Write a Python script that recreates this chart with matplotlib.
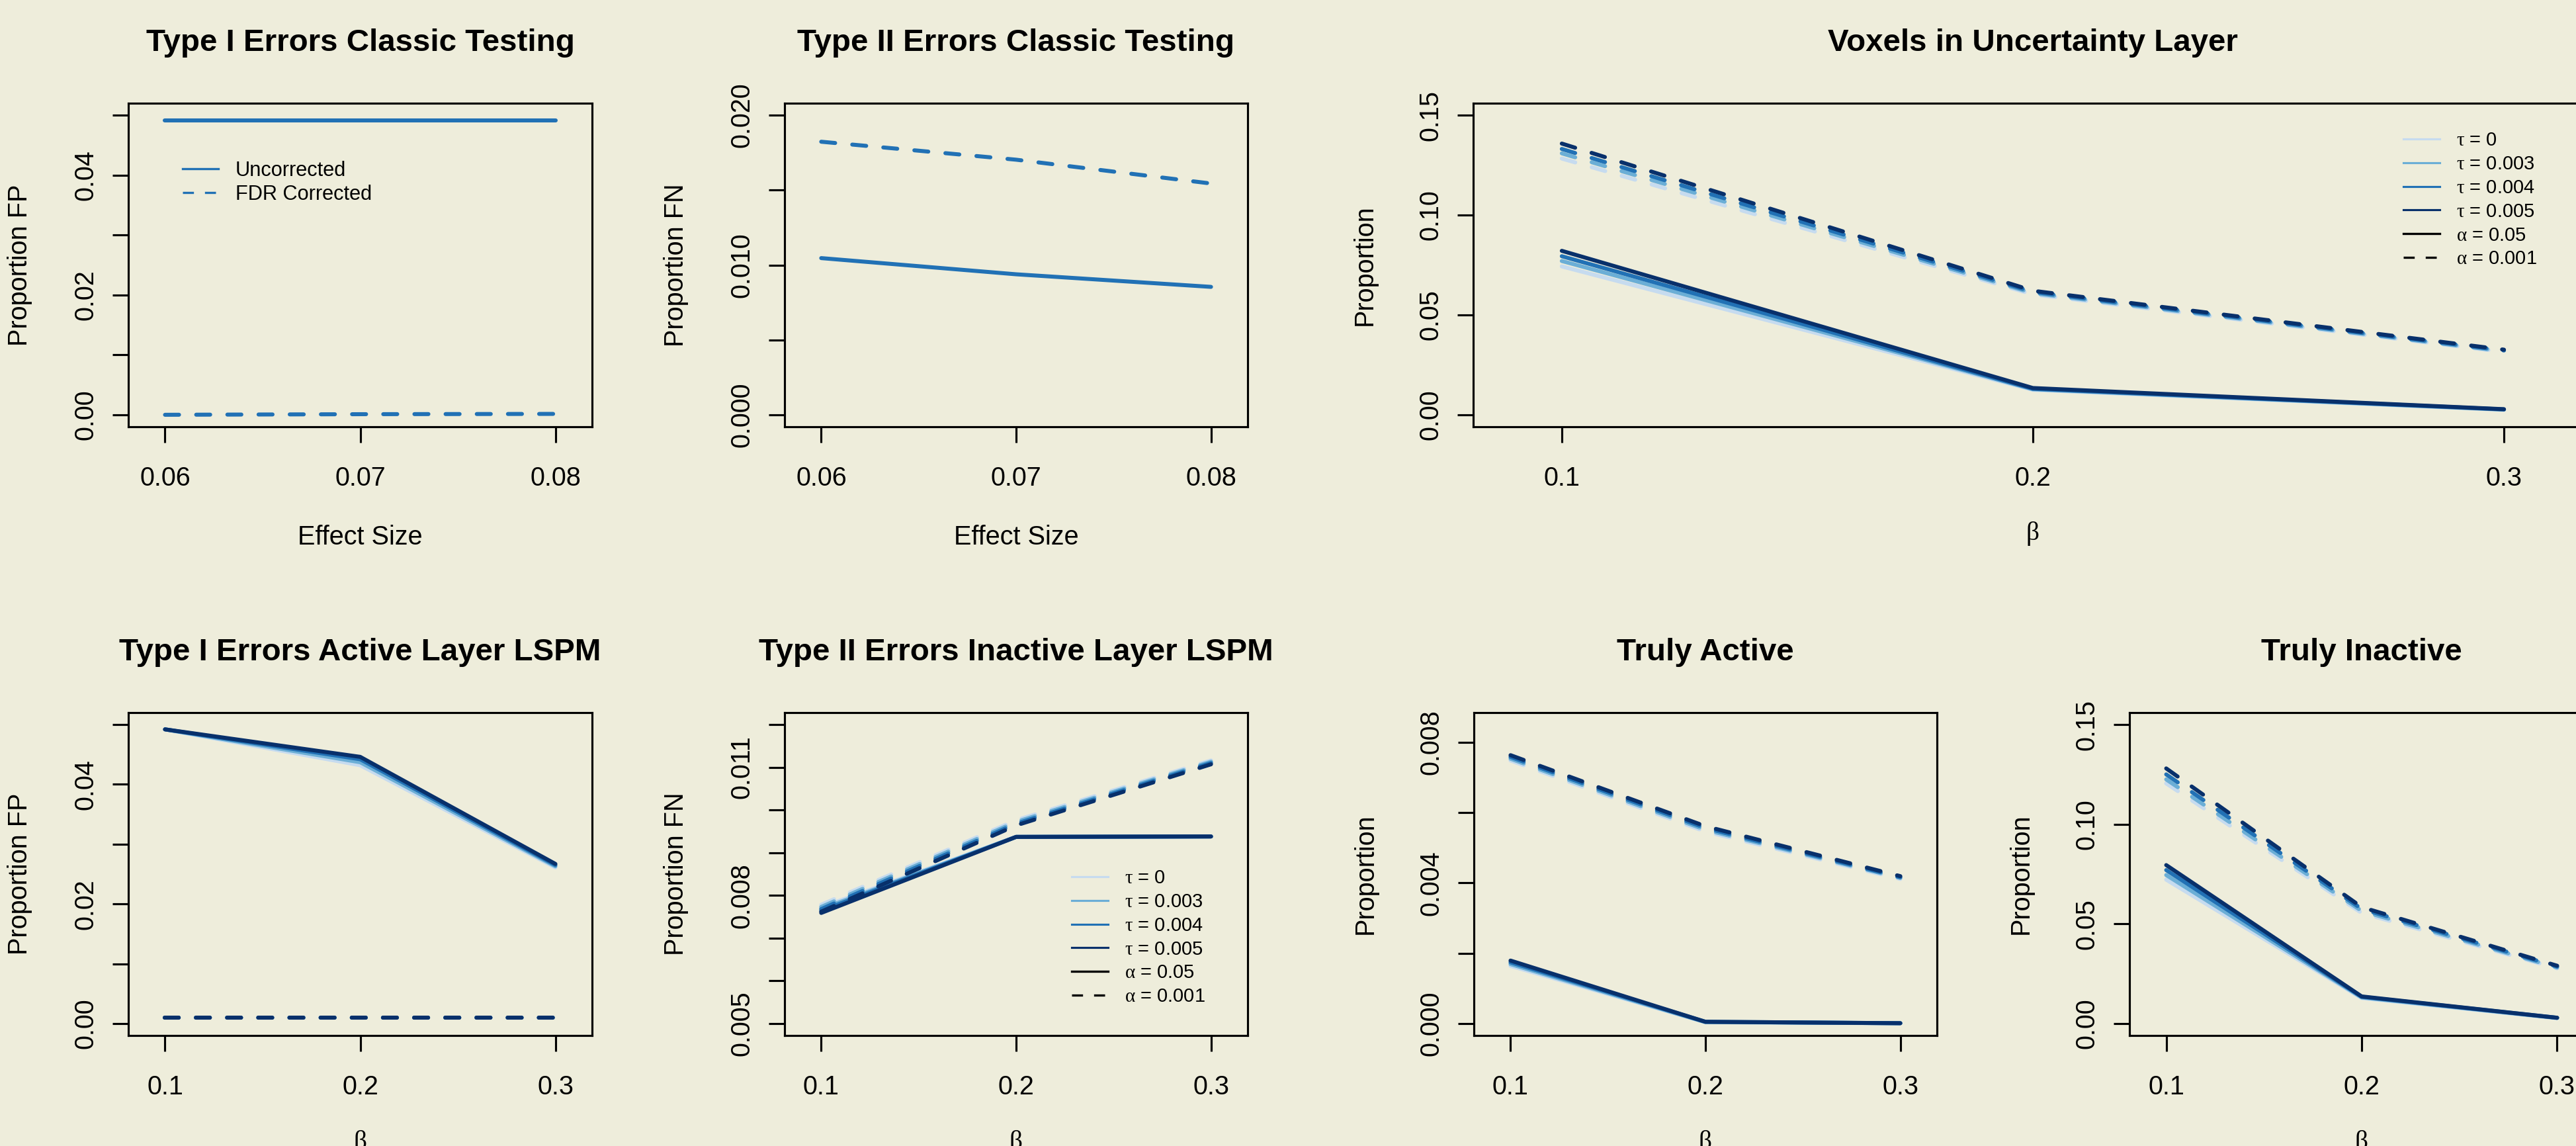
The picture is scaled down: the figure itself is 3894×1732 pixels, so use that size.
import matplotlib
matplotlib.use("Agg")
import matplotlib.pyplot as plt
from matplotlib.lines import Line2D

W, H, DPI = 3895, 1732, 300
BG = "#EEEDDB"

plt.rcParams["font.family"] = ["Liberation Sans", "DejaVu Sans"]
plt.rcParams["mathtext.fontset"] = "custom"
plt.rcParams["mathtext.rm"] = "Liberation Serif"

# ---- data ----
effect_size = [0.06, 0.07, 0.08]
beta = [0.1, 0.2, 0.3]

fp_uncorrected = [0.0491, 0.0491, 0.0491]
fp_fdr = [0.0, 0.0001, 0.00015]
fn_uncorrected = [0.01046, 0.00938, 0.00854]
fn_fdr = [0.01823, 0.01703, 0.01544]

tau_values = ["0", "0.003", "0.004", "0.005"]
tau_colors = ["#C6DBEF", "#6BAED6", "#2171B5", "#08306B"]

# rows: tau = 0, 0.003, 0.004, 0.005 ; columns: beta = 0.1, 0.2, 0.3
unc_a05 = [[0.0743, 0.0125, 0.0025], [0.0770, 0.0128, 0.0026],
           [0.0794, 0.0130, 0.0027], [0.0821, 0.0134, 0.0028]]
unc_a001 = [[0.1283, 0.0603, 0.0315], [0.1309, 0.0609, 0.0318],
            [0.1331, 0.0615, 0.0322], [0.1358, 0.0621, 0.0326]]

fpa_a05 = [[0.0492, 0.0432, 0.0261], [0.0492, 0.0437, 0.0263],
           [0.0492, 0.0442, 0.0265], [0.0492, 0.0446, 0.0267]]
fpa_a001 = [[0.0010, 0.0010, 0.0010], [0.0010, 0.0010, 0.0010],
            [0.0010, 0.0010, 0.0010], [0.0010, 0.0010, 0.0010]]

fni_a05 = [[0.00772, 0.00937, 0.00938], [0.00768, 0.00937, 0.00938],
           [0.00764, 0.00937, 0.00938], [0.00759, 0.00937, 0.00938]]
fni_a001 = [[0.00778, 0.00976, 0.01116], [0.00773, 0.00972, 0.01113],
            [0.00768, 0.00968, 0.01110], [0.00762, 0.00964, 0.01107]]

act_a05 = [[0.00164, 0.00004, 0.00001], [0.00169, 0.00004, 0.00001],
           [0.00174, 0.00005, 0.00001], [0.00179, 0.00005, 0.00001]]
act_a001 = [[0.00748, 0.00546, 0.00411], [0.00753, 0.00551, 0.00414],
            [0.00758, 0.00556, 0.00416], [0.00763, 0.00561, 0.00419]]

ina_a05 = [[0.0722, 0.0128, 0.0027], [0.0745, 0.0131, 0.0028],
           [0.0770, 0.0134, 0.0029], [0.0795, 0.0136, 0.0029]]
ina_a001 = [[0.1205, 0.0555, 0.0277], [0.1225, 0.0565, 0.0281],
            [0.1250, 0.0575, 0.0286], [0.1280, 0.0584, 0.0290]]

LW = 1.45
DASH = (3.5, 4.3)

fig = plt.figure(figsize=(W / DPI, H / DPI), dpi=DPI, facecolor=BG)


def add_panel(left, right, top, bottom, xlim, ylim, xticks, xlabs, yticks, ylabs,
              title, xlabel, ylabel, greek_x=False):
    ax = fig.add_axes([left / W, 1 - bottom / H, (right - left) / W, (bottom - top) / H])
    ax.set_facecolor("none")
    ax.set_xlim(xlim)
    ax.set_ylim(ylim)
    ax.set_xticks(xticks, xlabs)
    ax.set_yticks(yticks, ylabs, rotation=90, va="center")
    ax.tick_params(direction="out", length=5.8, width=0.75, labelsize=9.5)
    ax.tick_params(axis="x", pad=8.4)
    ax.tick_params(axis="y", pad=5.0)
    for sp in ax.spines.values():
        sp.set_linewidth(0.75)
    ax.set_title(title, fontsize=11.4, fontweight="bold", pad=19)
    cx = (left + right) / 2
    if greek_x:
        fig.text(cx / W, 1 - (bottom + 171) / H, xlabel, ha="center", va="baseline",
                 fontsize=9.5, family="Liberation Serif")
    else:
        fig.text(cx / W, 1 - (bottom + 178) / H, xlabel, ha="center", va="baseline",
                 fontsize=9.5)
    fig.text((left - 164) / W, 1 - (top + bottom) / 2 / H, ylabel, rotation=90,
             ha="center", va="center", fontsize=9.5)
    return ax


def draw_tau(ax, solid, dashed):
    for i in range(len(tau_values)):
        ax.plot(beta, solid[i], color=tau_colors[i], lw=LW,
                solid_capstyle="round", solid_joinstyle="round")
        ax.plot(beta, dashed[i], color=tau_colors[i], lw=LW, dashes=DASH,
                dash_capstyle="round", dash_joinstyle="round")


def tau_legend(ax, x, y):
    handles = [Line2D([], [], color=c, lw=0.75) for c in tau_colors]
    handles += [Line2D([], [], color="black", lw=0.8),
                Line2D([], [], color="black", lw=0.8, dashes=(5, 5))]
    labels = [r"$\mathrm{\tau}$ = " + t for t in tau_values]
    labels += [r"$\mathrm{\alpha}$ = 0.05", r"$\mathrm{\alpha}$ = 0.001"]
    ax.legend(handles, labels, loc="upper left", bbox_to_anchor=(x / W, 1 - y / H),
              bbox_transform=fig.transFigure, frameon=False, fontsize=7.0,
              borderpad=0, borderaxespad=0, handlelength=1.88, handletextpad=0.86,
              labelspacing=0.27)


xlim_es = (0.05812, 0.08188)
xlim_b = (0.0812, 0.3188)
es_labels = ["0.06", "0.07", "0.08"]
b_labels = ["0.1", "0.2", "0.3"]

# ---- top row ----
ax1 = add_panel(194, 895, 156, 645, xlim_es, (-0.002, 0.052), effect_size, es_labels,
                [0, 0.01, 0.02, 0.03, 0.04, 0.05], ["0.00", "", "0.02", "", "0.04", ""],
                "Type I Errors Classic Testing", "Effect Size", "Proportion FP")
ax1.plot(effect_size, fp_uncorrected, color="#2171B5", lw=LW, solid_capstyle="round")
ax1.plot(effect_size, fp_fdr, color="#2171B5", lw=LW, dashes=DASH, dash_capstyle="round")
ax1.legend([Line2D([], [], color="#2171B5", lw=0.8),
            Line2D([], [], color="#2171B5", lw=0.8, dashes=(5, 5))],
           ["Uncorrected", "FDR Corrected"], loc="upper left",
           bbox_to_anchor=(276 / W, 1 - 243 / H), bbox_transform=fig.transFigure,
           frameon=False, fontsize=7.4, borderpad=0, borderaxespad=0,
           handlelength=1.75, handletextpad=0.84, labelspacing=0.2)

ax2 = add_panel(1186, 1886, 156, 645, xlim_es, (-0.0008, 0.0208), effect_size, es_labels,
                [0, 0.005, 0.01, 0.015, 0.02], ["0.000", "", "0.010", "", "0.020"],
                "Type II Errors Classic Testing", "Effect Size", "Proportion FN")
ax2.plot(effect_size, fn_uncorrected, color="#2171B5", lw=LW, solid_capstyle="round")
ax2.plot(effect_size, fn_fdr, color="#2171B5", lw=LW, dashes=DASH, dash_capstyle="round")

ax3 = add_panel(2227, 3919, 156, 645, xlim_b, (-0.006, 0.156), beta, b_labels,
                [0, 0.05, 0.1, 0.15], ["0.00", "0.05", "0.10", "0.15"],
                "Voxels in Uncertainty Layer", "\u03b2", "Proportion", greek_x=True)
draw_tau(ax3, unc_a05, unc_a001)
tau_legend(ax3, 3633, 198)

# ---- bottom row ----
ax4 = add_panel(194, 895, 1077, 1565, xlim_b, (-0.002, 0.052), beta, b_labels,
                [0, 0.01, 0.02, 0.03, 0.04, 0.05], ["0.00", "", "0.02", "", "0.04", ""],
                "Type I Errors Active Layer LSPM", "\u03b2", "Proportion FP", greek_x=True)
draw_tau(ax4, fpa_a05, fpa_a001)

ax5 = add_panel(1186, 1886, 1077, 1565, xlim_b, (0.00472, 0.01228), beta, b_labels,
                [0.005, 0.006, 0.007, 0.008, 0.009, 0.010, 0.011, 0.012],
                ["0.005", "", "", "0.008", "", "", "0.011", ""],
                "Type II Errors Inactive Layer LSPM", "\u03b2", "Proportion FN", greek_x=True)
draw_tau(ax5, fni_a05, fni_a001)
tau_legend(ax5, 1620, 1313)

ax6 = add_panel(2228, 2928, 1077, 1565, xlim_b, (-0.00034, 0.00884), beta, b_labels,
                [0, 0.002, 0.004, 0.006, 0.008], ["0.000", "", "0.004", "", "0.008"],
                "Truly Active", "\u03b2", "Proportion", greek_x=True)
draw_tau(ax6, act_a05, act_a001)

ax7 = add_panel(3219, 3921, 1077, 1565, xlim_b, (-0.006, 0.156), beta, b_labels,
                [0, 0.05, 0.1, 0.15], ["0.00", "0.05", "0.10", "0.15"],
                "Truly Inactive", "\u03b2", "Proportion", greek_x=True)
draw_tau(ax7, ina_a05, ina_a001)

fig.savefig("out.png", dpi=DPI, facecolor=BG)
